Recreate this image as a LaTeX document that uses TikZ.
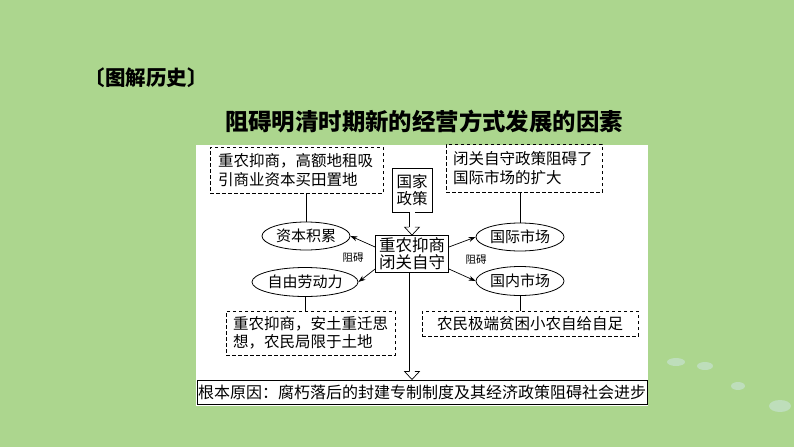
\documentclass[tikz,border=0pt]{standalone}
\usepackage{fontspec}
\newfontfamily\cjk{Noto Sans CJK SC}
\usetikzlibrary{arrows.meta,shapes.geometric,calc}

\definecolor{slidegreen}{RGB}{172,214,142}
\definecolor{spotblue}{RGB}{205,230,225}

\tikzset{
  notebox/.style={draw, dash pattern=on 3.5pt off 2.5pt, line width=0.7pt, inner sep=0pt, align=left,
    font=\cjk\fontsize{15.5}{18.5}\selectfont},
  solidbox/.style={draw, line width=0.8pt, inner sep=0pt, align=center,
    font=\cjk\fontsize{15.5}{18.5}\selectfont},
  factor/.style={draw, ellipse, line width=0.8pt, inner sep=0pt, minimum width=88pt, minimum height=28pt,
    font=\cjk\fontsize{15}{18}\selectfont},
  hinder/.style={font=\cjk\fontsize{10.5}{12}\selectfont},
  link/.style={line width=0.7pt},
  push/.style={line width=0.7pt, -{Stealth[length=7pt,width=5pt]}},
  shaft/.style={double, double distance=5pt, line width=0.8pt},
  spot/.style={fill=spotblue, opacity=0.55},
}

\begin{document}
\begin{tikzpicture}[x=1pt,y=1pt,yscale=-1,xscale=1]
\useasboundingbox (0,0) rectangle (794,447);

%Background
\fill[slidegreen] (0,0) rectangle (794,447);
\fill[spot] (676,362) ellipse (9 and 4);
\fill[spot] (705,366) ellipse (8 and 4);
\fill[spot] (738,386) ellipse (7 and 4);
\fill[spot] (780,406) ellipse (11 and 6);
\fill[white] (196,145) rectangle (648,406);

%Titles
\node[font=\cjk\bfseries\fontsize{20.5}{24}\selectfont] (title) at (146,78) {〔图解历史〕};
\node[font=\cjk\bfseries\fontsize{23.4}{28}\selectfont] (subtitle) at (424,122) {阻碍明清时期新的经营方式发展的因素};

%Central boxes
\node[solidbox, minimum width=40pt, minimum height=44pt] (policy) at (412,190) {国家\\[-2pt]政策};
\node[solidbox, minimum width=73pt, minimum height=37pt, font=\cjk\fontsize{16.5}{17}\selectfont] (core) at (412,254) {重农抑商\\闭关自守};

%Ellipses
\node[factor] (capital) at (306,236) {资本积累};
\node[factor, minimum width=90pt, minimum height=29pt] (labor) at (305,282) {自由劳动力};
\node[factor] (intlmkt) at (520,237) {国际市场};
\node[factor, minimum height=29pt] (homemkt) at (520,281) {国内市场};

%Dashed notes
\node[notebox, minimum width=173pt, minimum height=46pt, text width=157pt] (capnote) at (296.5,170) {重农抑商，高额地租吸\\引商业资本买田置地};
\node[notebox, minimum width=156pt, minimum height=48pt, text width=142pt] (intlnote) at (524,168) {闭关自守政策阻碍了\\国际市场的扩大};
\node[notebox, minimum width=169pt, minimum height=44pt, text width=155pt] (labnote) at (310.5,333) {重农抑商，安土重迁思\\想，农民局限于土地};
\node[notebox, minimum width=216pt, minimum height=25pt, align=center] (homenote) at (530,323.5) {农民极端贫困小农自给自足};

%Root cause
\node[solidbox, minimum width=450pt, minimum height=24pt, line width=1pt, font=\cjk\fontsize{16}{18}\selectfont] (rootcause) at (422,392) {根本原因：腐朽落后的封建专制制度及其经济政策阻碍社会进步};

%Plain links
\draw[link] (capnote.south -| capital.north) -- (capital.north);
\draw[link] (intlmkt.north) -- (intlmkt.north |- intlnote.south);
\draw[link] (labor.south) -- (labor.south |- labnote.north);
\draw[link] (homemkt.south) -- (homemkt.south |- homenote.north);

%Hinder arrows
\draw[push] ($(core.west)+(0,-7)$) -- (capital.east);
\draw[push] ($(core.west)+(0,15)$) -- (labor.east);
\draw[push] ($(core.east)+(0,-7)$) -- (intlmkt.west);
\draw[push] ($(core.east)+(0,15)$) -- (homemkt.west);
\node[hinder] (hinderl) at (353,258) {阻碍};
\node[hinder] (hinderr) at (476,260) {阻碍};

%Hollow arrows
\draw[shaft] (policy.south) -- ($(core.north)+(0,-8)$);
\draw[link, fill=white] ($(core.north)+(-2.9,-8)$) -- ++(-4.5,0) -- (core.north) -- ($(core.north)+(7.4,-8)$) -- ++(-4.5,0);
\draw[shaft] (core.south) -- ($(rootcause.north -| core.south)+(0,-8)$);
\draw[link, fill=white] ($(rootcause.north -| core.south)+(-2.9,-8)$) -- ++(-4.5,0) -- (rootcause.north -| core.south) -- ($(rootcause.north -| core.south)+(7.4,-8)$) -- ++(-4.5,0);

\end{tikzpicture}
\end{document}
